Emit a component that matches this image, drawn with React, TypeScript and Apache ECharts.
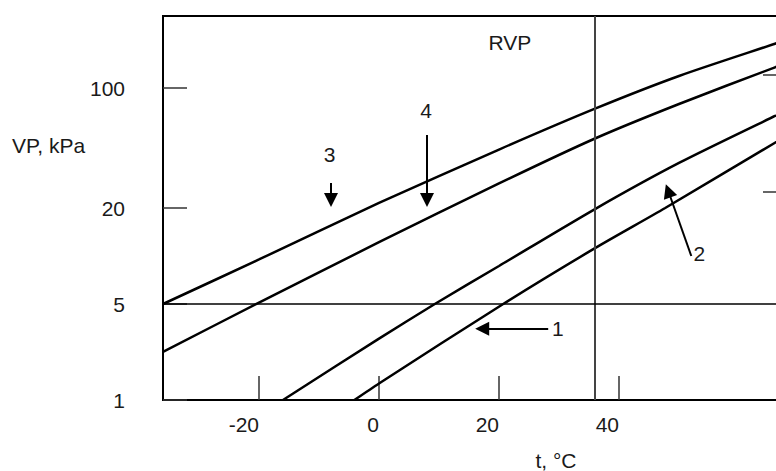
import { useEffect, useRef } from "react";
import * as echarts from "echarts";

const FONT = '"Liberation Sans", Arial, sans-serif';
const INK = "#1a1a1a";

// Vapour-pressure axis: tick values and their labels (kPa)
const vpTickValues = [1, 5, 20, 100];
const vpTickLabels = ["1", "5", "20", "100"];
// Secondary (right-hand) tick marks, kPa
const rightTickValues = [25, 120];
// Temperature axis ticks, °C
const tTickValues = [-20, 0, 20, 40];
const tMin = -36;
const tMax = 68;

// Reference temperature for Reid vapour pressure, °C
const rvpT = 36;
// Horizontal reference level, kPa
const refVp = 5;

// Vapour-pressure curves: [t °C, VP kPa]
const curve1 = [
  [-4.1, 1.0], [0, 1.32], [20.7, 5.0], [36, 11.2], [47.7, 20], [66, 48], [68, 52],
];
const curve2 = [
  [-16, 1.0], [0, 2.8], [9.3, 5.0], [20, 8.66], [36, 19.7], [50, 36.6], [66, 68.7], [68, 73.8],
];
const curve3 = [
  [-36, 5.0], [-20, 9.51], [0, 21.4], [20, 43.8], [36, 75.8], [50, 117.5], [66, 181], [68, 191],
];
const curve4 = [
  [-36, 2.24], [-20, 5.1], [0, 12.2], [20, 27.8], [36, 50.8], [50, 80.7], [66, 132], [68, 139],
];

// Pointer arrows: start point and arrow-head point [t, VP]
const arrows = [
  { from: [-8, 28], to: [-8, 22.3] },
  { from: [8, 53.2], to: [8, 22.3] },
  { from: [28.2, 3.3], to: [17.2, 3.3] },
  { from: [52.05, 10], to: [48.2, 25.2] },
];

// Text annotations anchored in data space [t, VP]
const noteTexts = ["3", "4", "1", "2", "RVP"];
const notePoints = [
  [-8.25, 41],
  [7.85, 74.4],
  [29.8, 3.3],
  [53.4, 10.4],
  [21.8, 183],
];

// Piecewise-logarithmic VP scale: 1, 5 and 20 kPa sit one step apart,
// 20 -> 100 kPa spans 1.25 steps (the last segment is extended upward).
const vpScaleSteps = [0, 1, 2, 3.25];
function toU(vp: number): number {
  let i = 0;
  while (i < vpTickValues.length - 2 && vp > vpTickValues[i + 1]) i++;
  const a = Math.log(vpTickValues[i]);
  const b = Math.log(vpTickValues[i + 1]);
  return (
    vpScaleSteps[i] +
    ((Math.log(vp) - a) / (b - a)) * (vpScaleSteps[i + 1] - vpScaleSteps[i])
  );
}

const toXY = (pts: number[][]) => pts.map(([t, vp]) => [t, toU(vp)]);

function curveSeries(name: string, pts: number[][], extra: object = {}) {
  return {
    name,
    type: "line",
    data: toXY(pts),
    showSymbol: false,
    smooth: 0.25,
    silent: true,
    z: 3,
    lineStyle: { color: "#000", width: 2.5 },
    ...extra,
  };
}

const textStyle = (text: string, align: string) => ({
  text,
  font: `21px ${FONT}`,
  fill: INK,
  align,
  verticalAlign: "middle",
});

function buildOption() {
  return {
    animation: false,
    backgroundColor: "#fff",
    textStyle: { fontFamily: FONT },
    grid: {
      left: 163,
      top: 16,
      width: 624,
      bottom: 71,
      containLabel: false,
      outerBoundsMode: "none",
      show: true,
      borderColor: "#000",
      borderWidth: 2,
    },
    xAxis: {
      type: "value",
      min: tMin,
      max: tMax,
      axisLine: { show: true, onZero: false, lineStyle: { color: "#000", width: 2 } },
      axisTick: {
        show: true,
        inside: true,
        length: 24,
        customValues: tTickValues,
        lineStyle: { color: "#333", width: 1.5 },
      },
      axisLabel: {
        customValues: tTickValues,
        align: "right",
        margin: 14,
        fontSize: 21,
        color: INK,
        fontFamily: FONT,
      },
      splitLine: { show: false },
    },
    yAxis: [
      {
        type: "value",
        position: "left",
        min: 0,
        max: 4,
        axisLine: { show: true, onZero: false, lineStyle: { color: "#000", width: 2 } },
        axisTick: {
          show: true,
          inside: true,
          length: 24,
          customValues: vpTickValues.map(toU),
          lineStyle: { color: "#333", width: 1.5 },
        },
        axisLabel: {
          customValues: vpTickValues.map(toU),
          formatter: (v: number) => {
            const i = vpTickValues.findIndex((x) => Math.abs(toU(x) - v) < 1e-6);
            return i >= 0 ? vpTickLabels[i] : "";
          },
          margin: 38,
          fontSize: 21,
          color: INK,
          fontFamily: FONT,
        },
        splitLine: { show: false },
      },
      {
        type: "value",
        position: "right",
        min: 0,
        max: 4,
        axisLine: { show: true, onZero: false, lineStyle: { color: "#000", width: 2 } },
        axisTick: {
          show: true,
          inside: true,
          length: 24,
          customValues: rightTickValues.map(toU),
          lineStyle: { color: "#333", width: 1.5 },
        },
        axisLabel: { show: false },
        splitLine: { show: false },
      },
    ],
    graphic: [
      { id: "yName", type: "text", x: 12, y: 145, style: textStyle("VP, kPa", "left") },
      { id: "xName", type: "text", x: 556, y: 460, style: textStyle("t, °C", "center") },
    ],
    series: [
      curveSeries("1", curve1, {
        markLine: {
          silent: true,
          symbol: "none",
          label: { show: false },
          data: [
            { xAxis: rvpT, lineStyle: { color: "#444", width: 2, type: "solid" } },
            { yAxis: toU(refVp), lineStyle: { color: "#000", width: 1.5, type: "solid" } },
          ],
        },
      }),
      curveSeries("2", curve2, {
        markLine: {
          silent: true,
          symbol: ["none", "triangle"],
          symbolSize: 14,
          label: { show: false },
          lineStyle: { color: "#000", width: 2, type: "solid" },
          data: arrows.map((a) => [
            { coord: [a.from[0], toU(a.from[1])] },
            { coord: [a.to[0], toU(a.to[1])] },
          ]),
        },
      }),
      curveSeries("3", curve3),
      curveSeries("4", curve4),
    ],
  };
}

export default function App() {
  const ref = useRef<HTMLDivElement>(null);
  useEffect(() => {
    if (!ref.current) return;
    const chart = echarts.init(ref.current, null, { renderer: "svg" });
    chart.setOption(buildOption() as any);
    // Annotation texts: data-space anchors converted through the chart's own axes
    const notes = noteTexts.map((text, i) => {
      const [px, py] = chart.convertToPixel({ gridIndex: 0 }, [
        notePoints[i][0],
        toU(notePoints[i][1]),
      ]) as number[];
      return { id: `note${i}`, type: "text", x: px, y: py, z: 10, style: textStyle(text, "center") };
    });
    chart.setOption({ graphic: notes } as any);
    return () => chart.dispose();
  }, []);
  return (
    <div
      ref={ref}
      style={{
        position: "fixed",
        left: 0,
        top: 0,
        width: 776,
        height: 471,
        background: "#fff",
      }}
    />
  );
}
